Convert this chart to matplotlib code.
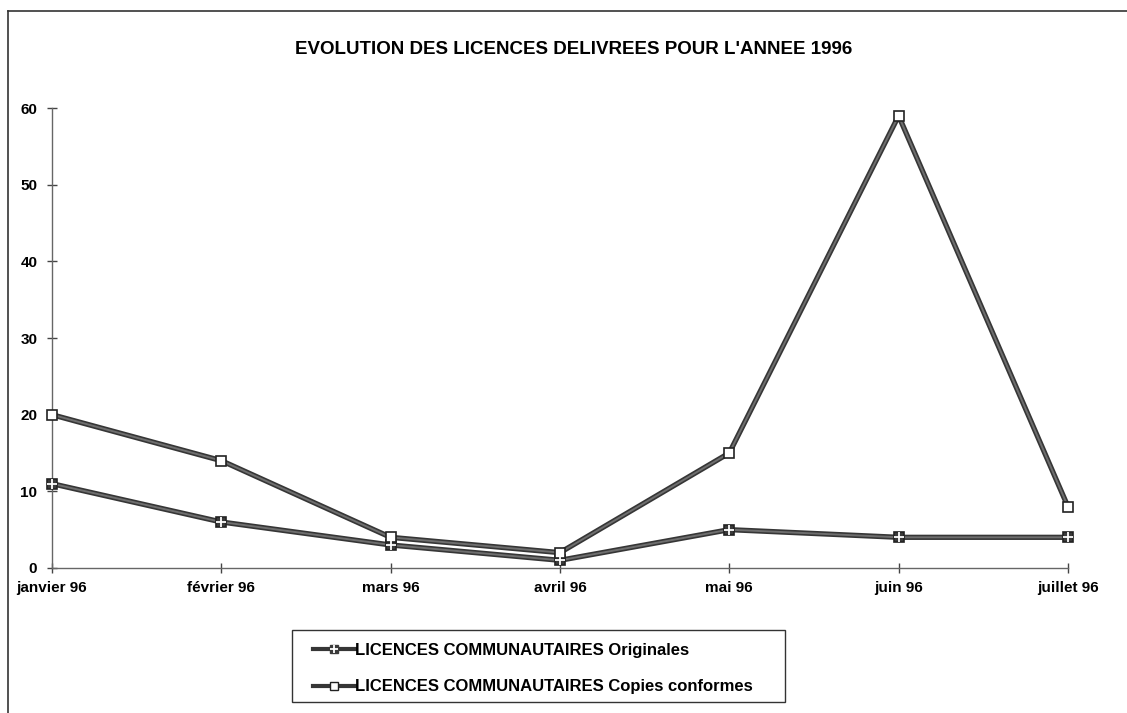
import numpy as np
import matplotlib
matplotlib.use("Agg")
import matplotlib.pyplot as plt
from matplotlib.lines import Line2D
from matplotlib.patches import Rectangle

months = ["janvier 96", "février 96", "mars 96", "avril 96", "mai 96", "juin 96", "juillet 96"]
originales = [11, 6, 3, 1, 5, 4, 4]
copies = [20, 14, 4, 2, 15, 59, 8]
yticks = [0, 10, 20, 30, 40, 50, 60]
labels = ["LICENCES COMMUNAUTAIRES Originales",
          "LICENCES COMMUNAUTAIRES Copies conformes"]

plt.rcParams['font.family'] = ['Liberation Sans', 'DejaVu Sans']
plt.rcParams['font.weight'] = 'bold'

fig = plt.figure(figsize=(11.27, 7.13), dpi=100)
ax = fig.add_axes([0.0461, 0.2034, 0.9015, 0.645])

x = np.arange(len(months))
dark = '#363636'
mid = '#6e6e6e'


def draw_series(vals, face, cross):
    # thick dark band with a slightly lighter core, like the printed line
    ax.plot(x, vals, color=dark, lw=3.8, solid_capstyle='butt', zorder=2, clip_on=False)
    ax.plot(x, vals, color=mid, lw=1.4, zorder=2.5, clip_on=False)
    ax.plot(x, vals, ls='none', marker='s', ms=6.8, mfc=face, mec='#222222',
            mew=1.2, zorder=3, clip_on=False)
    if cross:
        ax.plot(x, vals, ls='none', marker='+', ms=6.8, mew=1.3, color='white',
                zorder=4, clip_on=False)


draw_series(originales, '#3a3a3a', True)
draw_series(copies, 'white', False)

ax.set_xlim(0, len(months) - 1)
ax.set_ylim(0, 60)
ax.set_xticks(x)
ax.set_xticklabels(months, fontsize=11, fontweight='bold')
ax.set_yticks(yticks)
ax.set_yticklabels([str(v) for v in yticks], fontsize=11, fontweight='bold')
ax.tick_params(axis='both', direction='inout', length=7, width=1, color='#444444')
ax.tick_params(axis='x', pad=6)
ax.tick_params(axis='y', pad=7)

for s in ['top', 'right']:
    ax.spines[s].set_visible(False)
for s in ['left', 'bottom']:
    ax.spines[s].set_color('#666666')
    ax.spines[s].set_linewidth(1)

fig.text(0.509, 0.930, "EVOLUTION DES LICENCES DELIVREES POUR L'ANNEE 1996",
         ha='center', va='center', fontsize=13.5, fontweight='bold')

h1 = (Line2D([], [], color=dark, lw=3, marker='s', ms=6, mfc='#3a3a3a', mec='#3a3a3a'),
      Line2D([], [], ls='none', marker='+', ms=6, mew=1.3, color='white'))
h2 = Line2D([], [], color=dark, lw=3, marker='s', ms=6, mfc='white', mec='#222222')
leg = fig.legend([h1, h2], labels,
                 loc='upper left', bbox_to_anchor=(0.2777, 0.0985),
                 bbox_transform=fig.transFigure, frameon=False,
                 handlelength=2.5, handletextpad=0.05, labelspacing=1.3,
                 borderpad=0, borderaxespad=0,
                 prop={'weight': 'bold', 'size': 12})
fig.add_artist(Rectangle((0.2591, 0.0154), 0.4374, 0.101, transform=fig.transFigure,
                         fill=False, edgecolor='#333333', lw=1))

# outer frame of the scanned page
fig.add_artist(Line2D([0.007, 0.007], [0.0, 0.985], color='#333333', lw=1.2,
                      transform=fig.transFigure))
fig.add_artist(Line2D([0.007, 1.0], [0.985, 0.985], color='#333333', lw=1.2,
                      transform=fig.transFigure))

fig.savefig("out.png", dpi=100)
